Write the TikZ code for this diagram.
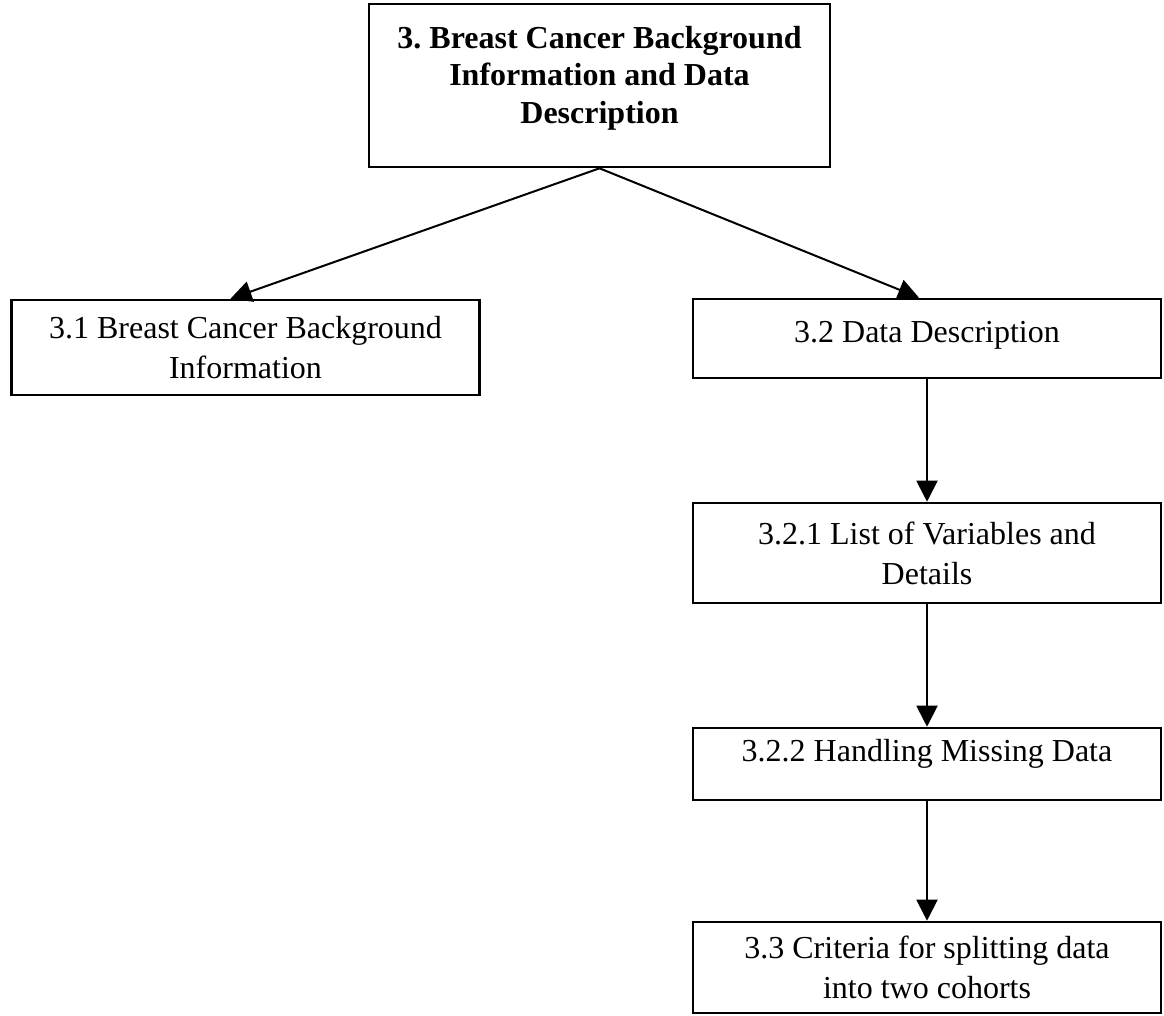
\documentclass[tikz,border=0pt]{standalone}
\usepackage{fontspec}
\setmainfont{Liberation Serif}
\frenchspacing
\usetikzlibrary{arrows.meta, positioning}

\begin{document}
\begin{tikzpicture}[x=1pt, y=-1pt, >={Triangle[length=21pt, width=21pt]},
  box/.style={draw, line width=2.6pt, minimum width=468pt, inner sep=0pt,
    align=center, font=\fontsize{32}{40}\selectfont},
  link/.style={->, line width=2pt}]
  \useasboundingbox (0,0) rectangle (1164,1016);
  % top level section
  \node[box, minimum width=461pt, minimum height=163pt, text depth=22pt,
    font=\bfseries\fontsize{32}{37.5}\selectfont] (sec3) at (599.5,85.5)
    {3. Breast Cancer Background\\Information and Data\\Description};
  % left branch
  \node[box, minimum height=95pt] (sec31) at (245.5,347.5)
    {3.1 Breast Cancer Background\\Information};
  % right branch, one column
  \node[box, minimum height=79pt, text depth=14pt] (sec32) at (927,338.5)
    {3.2 Data Description};
  \node[box, minimum height=100pt] (sec321) at (927,553)
    {3.2.1 List of Variables and\\Details};
  \node[box, minimum height=72pt, text depth=28pt] (sec322) at (927,764)
    {3.2.2 Handling Missing Data};
  \node[box, minimum height=91pt] (sec33) at (927,967.5)
    {3.3 Criteria for splitting data\\into two cohorts};
  % connectors
  \draw[link] (sec3.south) -- ([xshift=-15pt]sec31.north);
  \draw[link] (sec3.south) -- ([xshift=-8pt]sec32.north);
  \draw[link] (sec32) -- (sec321);
  \draw[link] (sec321) -- (sec322);
  \draw[link] (sec322) -- (sec33);
\end{tikzpicture}
\end{document}
